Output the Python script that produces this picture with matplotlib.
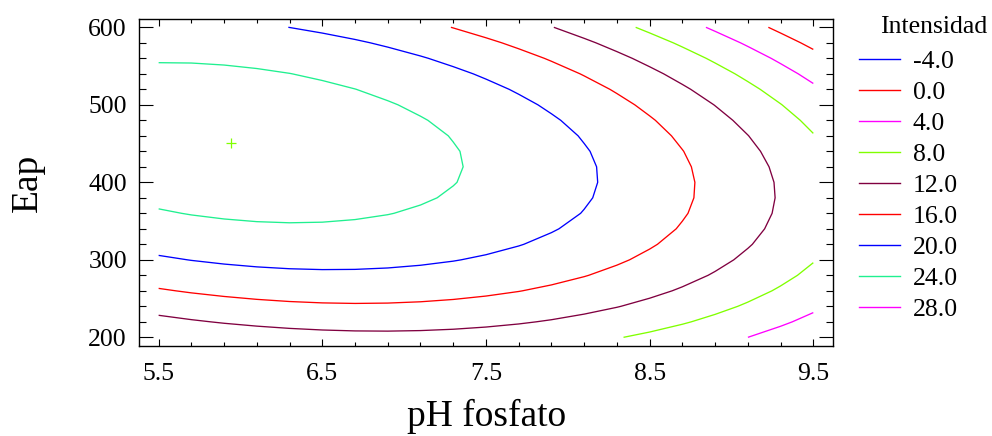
import numpy as np
import matplotlib
matplotlib.use("Agg")
import matplotlib.pyplot as plt
from matplotlib.lines import Line2D
from matplotlib.ticker import MultipleLocator, FixedLocator

plt.rcParams['font.family'] = ['Liberation Serif', 'DejaVu Serif']

# ---- data (points on each contour line) ----
levels = [-4.0, 0.0, 4.0, 8.0, 12.0, 16.0, 20.0, 24.0, 28.0]
level_colors = ['#0000ff', '#ff0000', '#ff00ff', '#80ff00', '#800040',
                '#ff0000', '#0000ff', '#20f090', '#ff00ff']

lev24_x = [5.5, 5.915, 6.099, 6.312, 6.71, 6.933, 7.127, 7.273, 7.345, 7.367,
           7.33, 7.204, 6.933, 5.5, 6.099, 6.302, 6.498, 6.893]
lev24_y = [554.8, 551.3, 546.2, 540.6, 520, 502.7, 480.4, 459.7, 439.5, 421,
           399.5, 378.5, 358.7, 364.3, 350.5, 347.5, 347.9, 357.8]

lev20_x = [6.312, 6.893, 7.3, 7.463, 7.504, 7.707, 7.829, 7.911, 8.054, 8.104,
           8.145, 8.176, 8.182, 8.155, 8.094, 7.951, 7.707, 7.34, 5.5, 5.702,
           6.099, 6.498, 6.893, 7.28, 7.463]
lev20_y = [600, 573.7, 550, 536.3, 532.9, 512.6, 499.7, 489, 458.8, 450.3,
           435.2, 420.1, 400.8, 378.5, 360.8, 338.5, 317.8, 298.8, 305.8, 297.5,
           289.8, 287.2, 288.5, 297.5, 304.9]

lev16_x = [7.296, 7.504, 7.707, 7.9, 8.104, 8.298, 8.501, 8.634, 8.705, 8.756,
           8.778, 8.772, 8.746, 8.664, 8.501, 8.359, 8.094, 7.89, 7.707, 7.34,
           5.5, 6.099, 6.498, 6.893, 7.28]
lev16_y = [600, 586.6, 571.6, 555.6, 536.3, 514.8, 484.6, 458.8, 439.5, 421,
           399.5, 378.5, 360, 338.5, 313.5, 298.8, 277.4, 267.5, 258.8, 250.3,
           263.2, 249, 243.9, 243.9, 249]

lev12_x = [7.921, 8.298, 8.501, 8.705, 8.898, 9.102, 9.184, 9.234, 9.259, 9.265,
           9.234, 9.204, 9.102, 8.888, 8.695, 8.501, 8.298, 7.9, 7.707, 7.34,
           5.5, 6.099, 6.498, 6.71, 6.893, 7.463]
lev12_y = [600, 571.6, 550, 525.5, 499.7, 459.7, 439.5, 421, 400.8, 378.5,
           351.4, 339.4, 314.8, 284.6, 263.2, 249.4, 239.5, 222.3, 217.2, 211.6,
           228.8, 213.7, 209.4, 208.1, 208.1, 212.4]

lev8_x = [8.416, 8.695, 8.898, 9.102, 9.316, 9.5, 9.5, 9.295, 9.102, 8.695, 8.338]
lev8_y = [600, 575, 554.3, 529.8, 498.5, 463.2, 296.3, 264.5, 245.2, 215.9, 200]

lev4_x = [8.851, 9.102, 9.316, 9.5, 9.5, 9.295, 9.102]
lev4_y = [600, 575, 551.4, 527.7, 232.3, 213.7, 200]

lev0_x = [9.224, 9.316, 9.5]
lev0_y = [600, 592.3, 570.7]

optimum_x = [5.944]
optimum_y = [451.0]

ph_range = [5.5, 9.5]
eap_range = [200, 600]

x_ticks = [5.5, 6.5, 7.5, 8.5, 9.5]
y_ticks = [200, 300, 400, 500, 600]

# ---- fit second-order response surface to the read contour points ----
pts = [(lev24_x, lev24_y, 24.0), (lev20_x, lev20_y, 20.0), (lev16_x, lev16_y, 16.0),
       (lev12_x, lev12_y, 12.0), (lev8_x, lev8_y, 8.0), (lev4_x, lev4_y, 4.0),
       (lev0_x, lev0_y, 0.0)]
X = np.concatenate([np.asarray(p[0], float) for p in pts])
Y = np.concatenate([np.asarray(p[1], float) for p in pts])
Z = np.concatenate([np.full(len(p[0]), p[2]) for p in pts])


def design(x, y):
    u = (x - 7.5) / 2.0
    v = (y - 400.0) / 200.0
    return np.column_stack([np.ones_like(u), u, v, u * u, v * v, u * v])


coef, *_ = np.linalg.lstsq(design(X, Y), Z, rcond=None)

gx = np.linspace(ph_range[0], ph_range[1], 21)
gy = np.linspace(eap_range[0], eap_range[1], 21)
GX, GY = np.meshgrid(gx, gy)
GZ = (design(GX.ravel(), GY.ravel()) @ coef).reshape(GX.shape)

# ---- figure ----
fig = plt.figure(figsize=(9.92, 4.36), dpi=100)
ax = fig.add_axes([0.1406, 0.2064, 0.6994, 0.75])

ax.contour(GX, GY, GZ, levels=levels, colors=level_colors, linewidths=0.95,
           linestyles='solid')
ax.plot(optimum_x, optimum_y, marker='+', color='#80ff00', markersize=7,
        markeredgewidth=0.9, linestyle='none')

ax.set_xlim(5.383, 9.622)
ax.set_ylim(188.8, 610.7)
ax.xaxis.set_major_locator(FixedLocator(x_ticks))
ax.yaxis.set_major_locator(FixedLocator(y_ticks))
ax.xaxis.set_minor_locator(MultipleLocator(0.2, offset=0.1))
ax.yaxis.set_minor_locator(MultipleLocator(20))
ax.set_xticklabels([f'{t:.1f}' for t in x_ticks])
ax.set_yticklabels([f'{t:d}' for t in y_ticks])

ax.tick_params(axis='both', which='both', direction='in', top=True, right=True,
               width=0.8, colors='black', labelsize=18.5)
ax.tick_params(axis='x', which='major', length=5, pad=12)
ax.tick_params(axis='x', which='minor', length=2.7)
ax.tick_params(axis='y', which='major', length=10, pad=9)
ax.tick_params(axis='y', which='minor', length=5)
for s in ax.spines.values():
    s.set_linewidth(1.0)

ax.set_xlabel('pH fosfato', fontsize=27, labelpad=10)
ax.set_ylabel('Eap', fontsize=27, labelpad=31)

handles = [Line2D([], [], color=c, lw=1.0) for c in level_colors]
labels = [f'{lv:.1f}' for lv in levels]
fig.legend(handles, labels, loc='upper left', bbox_to_anchor=(859 / 992, 1 - 50 / 436),
           frameon=False, fontsize=18.5, handlelength=1.6, handletextpad=0.5,
           labelspacing=0.31, borderpad=0, borderaxespad=0)
fig.text(880 / 992, 1 - 27 / 436, 'Intensidad', fontsize=18.5, ha='left', va='center')

fig.savefig('out.png', dpi=100)
